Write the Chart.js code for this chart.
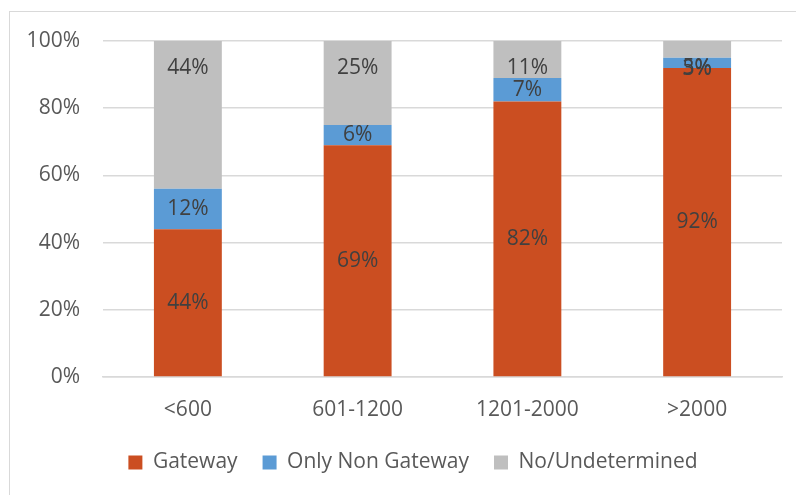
<!DOCTYPE html>
<html>
<head>
<meta charset="utf-8">
<script src="https://cdn.jsdelivr.net/npm/chart.js@4.4.1/dist/chart.umd.min.js"></script>
<style>
  html, body { margin: 0; padding: 0; background: #fff; overflow: hidden; }
  #wrap { position: relative; width: 796px; height: 495px; }
  #frame { position: absolute; left: 9px; top: 11px; width: 900px; height: 600px; border: 1px solid #D9D9D9; }
  canvas { position: absolute; left: 0; top: 0; }
</style>
</head>
<body>
<div id="wrap">
  <div id="frame"></div>
  <canvas id="chart" width="796" height="495"></canvas>
</div>
<script>
// categories and values (percent)
const categories = ['<600', '601-1200', '1201-2000', '>2000'];
const gateway = [44, 69, 82, 92];
const onlyNonGateway = [12, 6, 7, 3];
const noUndetermined = [44, 25, 11, 5];
const yTicks = [0, 20, 40, 60, 80, 100];

const FONT = "'Open Sans', 'Noto Sans', sans-serif";

// draws the % labels on each segment
const segmentLabels = {
  id: 'segmentLabels',
  afterDatasetsDraw(chart) {
    const ctx = chart.ctx;
    ctx.save();
    ctx.font = '21px ' + FONT;
    ctx.fillStyle = '#404040';
    ctx.textAlign = 'center';
    ctx.textBaseline = 'middle';
    chart.data.datasets.forEach((ds, i) => {
      const meta = chart.getDatasetMeta(i);
      meta.data.forEach((bar, j) => {
        const top = Math.min(bar.y, bar.base);
        const bottom = Math.max(bar.y, bar.base);
        const h = bottom - top;
        let y = (top + bottom) / 2;
        if (ds.labelAnchor === 'end') {
          y = top + 27;
        } else if (h < 20) {
          y += (22 - h) / 2;
        }
        ctx.fillText(ds.data[j] + '%', bar.x, y);
      });
    });
    ctx.restore();
  }
};

// legend in the original sits a bit right of the canvas centre
const legendShift = {
  id: 'legendShift',
  afterLayout(chart) {
    if (chart.legend) chart.legend.left += 44;
  }
};

const ctx = document.getElementById('chart');
new Chart(ctx, {
  type: 'bar',
  data: {
    labels: categories,
    datasets: [
      { label: 'Gateway', data: gateway, backgroundColor: '#CB4E21' },
      { label: 'Only Non Gateway', data: onlyNonGateway, backgroundColor: '#5B9BD5' },
      { label: 'No/Undetermined', data: noUndetermined, backgroundColor: '#BFBFBF', labelAnchor: 'end' }
    ]
  },
  options: {
    responsive: false,
    animation: false,
    layout: { padding: { top: 41, right: 14, left: 0, bottom: 12 } },
    datasets: { bar: { barPercentage: 0.4, categoryPercentage: 1 } },
    scales: {
      x: {
        stacked: true,
        grid: { display: false, drawTicks: false },
        border: { color: '#D9D9D9', width: 1.5 },
        ticks: { color: '#595959', font: { family: FONT, size: 21 }, padding: 20 },
        afterFit(scale) { scale.height = 50; }
      },
      y: {
        stacked: true,
        min: 0,
        max: 100,
        afterBuildTicks(scale) { scale.ticks = yTicks.map(v => ({ value: v })); },
        grid: { color: '#D9D9D9', lineWidth: 1.5, drawTicks: false },
        border: { display: false },
        ticks: {
          color: '#595959',
          font: { family: FONT, size: 21 },
          padding: 23,
          callback: v => v + '%'
        },
        afterFit(scale) { scale.width = 103; }
      }
    },
    plugins: {
      legend: {
        position: 'bottom',
        labels: {
          boxWidth: 14,
          boxHeight: 14,
          padding: 25,
          color: '#595959',
          font: { family: FONT, size: 21 }
        }
      },
      tooltip: { enabled: false }
    }
  },
  plugins: [segmentLabels, legendShift]
});
</script>
</body>
</html>
